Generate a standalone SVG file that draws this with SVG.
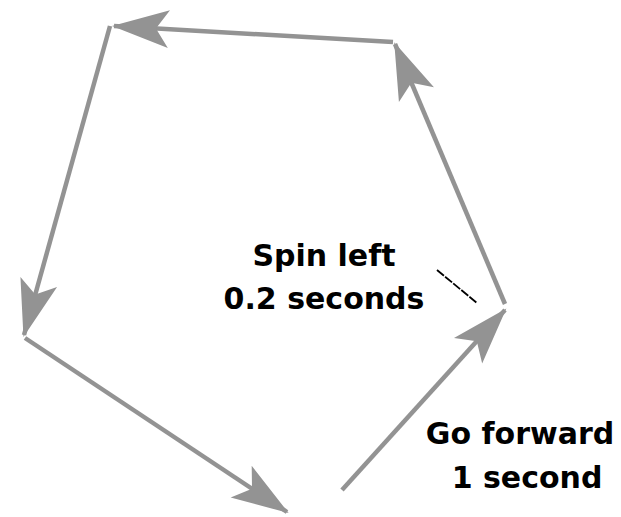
<svg xmlns="http://www.w3.org/2000/svg" width="621" height="517" viewBox="0 0 621 517">
<style>
.c{stroke:#939393;stroke-width:4.5;fill:none;marker-end:url(#ah)}
.t{font-family:"DejaVu Sans",Verdana,sans-serif;font-weight:bold;font-size:30px;fill:#000;text-anchor:middle}
</style>
<defs>
<marker id="ah" markerUnits="userSpaceOnUse" markerWidth="70" markerHeight="50" viewBox="-60 -25 70 50" refX="0" refY="0" orient="auto">
<path d="M2,0 L-55,-19 L-42,0 L-55,19 Z" fill="#939393"/>
</marker>
</defs>
<rect width="621" height="517" fill="#fff"/>
<g id="connectors">
<line class="c" x1="342" y1="490" x2="505" y2="310"/>
<line class="c" x1="505" y1="304" x2="395" y2="44"/>
<line class="c" x1="393" y1="42" x2="114" y2="26"/>
<line class="c" x1="110" y1="26" x2="24" y2="335"/>
<line class="c" x1="25" y1="338" x2="287" y2="512"/>
<line x1="437" y1="270" x2="477" y2="303" stroke="#000" stroke-width="1.8" stroke-dasharray="9 1.5"/>
</g>
<g id="spin-label">
<text class="t" x="324" y="266">Spin left</text>
<text class="t" x="324" y="309">0.2 seconds</text>
</g>
<g id="forward-label">
<text class="t" x="520" y="444">Go forward</text>
<text class="t" x="527" y="488">1 second</text>
</g>
</svg>
